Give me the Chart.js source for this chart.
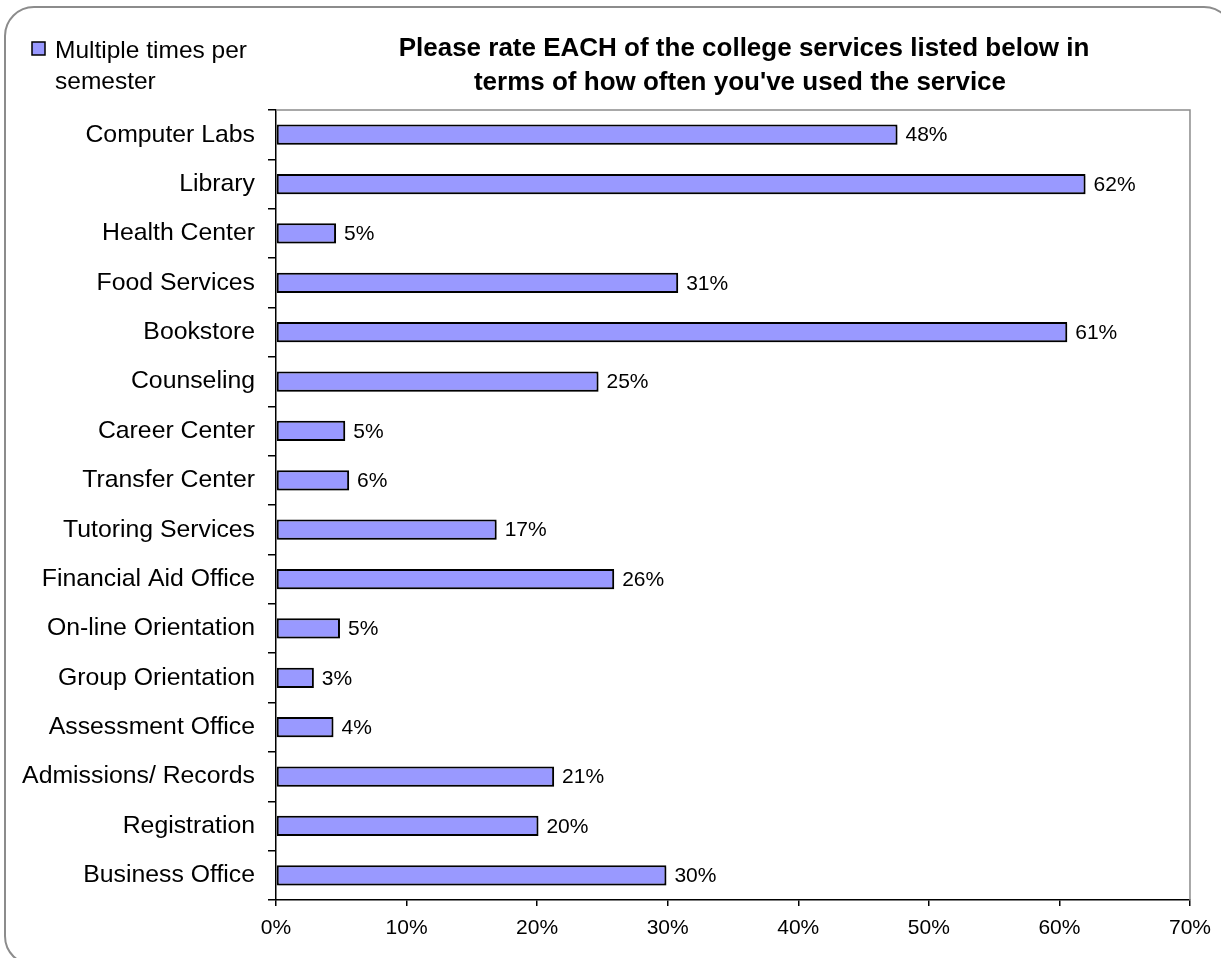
<!DOCTYPE html>
<html lang="en">
<head>
    <meta charset="UTF-8">
    <title>College services usage</title>
    <script src="https://cdn.jsdelivr.net/npm/chart.js@4.4.0/dist/chart.umd.min.js"></script>
    <style>
        html,
        body {
            margin: 0;
            padding: 0;
            background: #fff;
            overflow: hidden;
        }

        .frame {
            position: absolute;
            left: 4px;
            top: 6px;
            width: 1226px;
            height: 956px;
            border: 2px solid #8c8c8c;
            border-radius: 30px;
        }

        #myChart {
            position: absolute;
            left: 0;
            top: 0;
        }
    </style>
</head>
<body>
    <div class="frame"></div>
    <canvas id="myChart" width="1221" height="958"></canvas>
    <script>
        var services = ['Computer Labs', 'Library', 'Health Center', 'Food Services', 'Bookstore',
            'Counseling', 'Career Center', 'Transfer Center', 'Tutoring Services', 'Financial Aid Office',
            'On-line Orientation', 'Group Orientation', 'Assessment Office', 'Admissions/ Records',
            'Registration', 'Business Office'];
        var usage = [47.6, 62.0, 4.6, 30.8, 60.6, 24.7, 5.3, 5.6, 16.9, 25.9, 4.9, 2.9, 4.4, 21.3, 20.1, 29.9];
        var shownPercent = [48, 62, 5, 31, 61, 25, 5, 6, 17, 26, 5, 3, 4, 21, 20, 30];
        var xTicks = [0, 10, 20, 30, 40, 50, 60, 70];
        var seriesName = ['Multiple times per', 'semester'];
        var titleLines = ['Please rate EACH of the college services listed below in',
            "terms of how often you've used the service"];

        var FONT = "'Liberation Sans', Arial, sans-serif";
        var BAR_COLOR = '#9999ff';

        // title, legend, plot frame and value labels
        var extras = {
            id: 'extras',
            beforeDatasetsDraw: function (chart) {
                var ctx = chart.ctx, a = chart.chartArea;
                ctx.save();
                ctx.strokeStyle = '#8c8c8c';
                ctx.lineWidth = 1.5;
                ctx.beginPath();
                ctx.moveTo(a.left, a.top);
                ctx.lineTo(a.right, a.top);
                ctx.lineTo(a.right, a.bottom);
                ctx.stroke();
                ctx.restore();
                // light drop shadow under the bars
                ctx.save();
                ctx.shadowColor = 'rgba(0,0,0,0.22)';
                ctx.shadowOffsetX = 1.5;
                ctx.shadowOffsetY = 2;
                ctx.shadowBlur = 0;
            },
            afterDatasetsDraw: function (chart) {
                var ctx = chart.ctx, a = chart.chartArea;
                ctx.restore();
                ctx.save();
                ctx.fillStyle = '#000';
                ctx.font = '21px ' + FONT;
                ctx.textAlign = 'left';
                ctx.textBaseline = 'middle';
                chart.getDatasetMeta(0).data.forEach(function (bar, i) {
                    ctx.fillText(shownPercent[i] + '%', bar.x + 8, bar.y + 1);
                });

                // title
                ctx.font = 'bold 26px ' + FONT;
                ctx.textAlign = 'center';
                ctx.textBaseline = 'alphabetic';
                var cx = (a.left + a.right) / 2 + 7;
                ctx.fillText(titleLines[0], cx + 4, 56);
                ctx.fillText(titleLines[1], cx, 90);

                // legend
                ctx.fillStyle = BAR_COLOR;
                ctx.fillRect(32, 42, 13, 13);
                ctx.strokeStyle = '#000';
                ctx.lineWidth = 1.5;
                ctx.strokeRect(32, 42, 13, 13);
                ctx.fillStyle = '#000';
                ctx.font = '24.5px ' + FONT;
                ctx.textAlign = 'left';
                ctx.fillText(seriesName[0], 55, 58);
                ctx.fillText(seriesName[1], 55, 89);
                ctx.restore();
            }
        };

        var ctx = document.getElementById('myChart').getContext('2d');
        Chart.defaults.color = '#000';
        Chart.defaults.font.family = FONT;

        var myChart = new Chart(ctx, {
            type: 'bar',
            data: {
                labels: services,
                datasets: [{
                    label: seriesName.join(' '),
                    data: usage,
                    backgroundColor: BAR_COLOR,
                    borderColor: '#000',
                    borderWidth: 2,
                    borderSkipped: false,
                    barPercentage: 0.41,
                    categoryPercentage: 1
                }]
            },
            options: {
                indexAxis: 'y',
                responsive: false,
                animation: false,
                layout: {
                    padding: { top: 110, right: 27, left: 0, bottom: 0 }
                },
                plugins: {
                    legend: { display: false },
                    title: { display: false },
                    tooltip: { enabled: false }
                },
                scales: {
                    x: {
                        min: 0,
                        max: 70,
                        afterBuildTicks: function (scale) {
                            scale.ticks = xTicks.map(function (v) { return { value: v }; });
                        },
                        afterFit: function (scale) { scale.height = 58; },
                        ticks: {
                            font: { size: 21 },
                            padding: 10,
                            maxRotation: 0,
                            callback: function (v) { return v + '%'; }
                        },
                        grid: {
                            drawOnChartArea: false,
                            tickLength: 6,
                            color: '#000',
                            lineWidth: 1.5
                        },
                        border: { color: '#000', width: 1.5 }
                    },
                    y: {
                        afterFit: function (scale) { scale.width = 276; },
                        ticks: {
                            font: { size: 24.8 },
                            padding: 13,
                            autoSkip: false
                        },
                        grid: {
                            offset: true,
                            drawOnChartArea: false,
                            tickLength: 8,
                            color: '#000',
                            lineWidth: 1.5
                        },
                        border: { color: '#000', width: 1.5 }
                    }
                }
            },
            plugins: [extras]
        });
    </script>
</body>
</html>
